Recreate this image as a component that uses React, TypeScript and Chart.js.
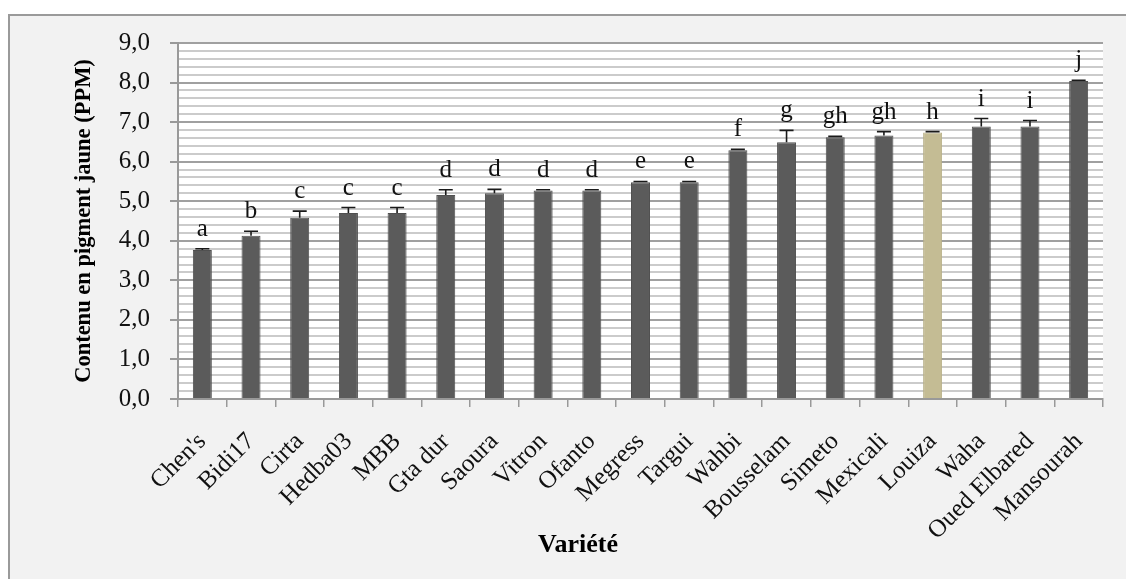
import React, { useEffect, useRef } from 'react';
import { Chart, registerables } from 'chart.js';

Chart.register(...registerables);

const varieties = ["Chen's", 'Bidi17', 'Cirta', 'Hedba03', 'MBB', 'Gta dur', 'Saoura', 'Vitron', 'Ofanto', 'Megress', 'Targui', 'Wahbi', 'Bousselam', 'Simeto', 'Mexicali', 'Louiza', 'Waha', 'Oued Elbared', 'Mansourah'];
const pigment = [3.77, 4.13, 4.58, 4.7, 4.7, 5.16, 5.2, 5.27, 5.27, 5.48, 5.48, 6.29, 6.49, 6.62, 6.66, 6.74, 6.89, 6.89, 8.04];
const stdErr = [0.03, 0.11, 0.17, 0.14, 0.14, 0.13, 0.1, 0.02, 0.02, 0.02, 0.02, 0.02, 0.3, 0.02, 0.1, 0.02, 0.2, 0.15, 0.02];
const groups = ['a', 'b', 'c', 'c', 'c', 'd', 'd', 'd', 'd', 'e', 'e', 'f', 'g', 'gh', 'gh', 'h', 'i', 'i', 'j'];
const yMin = 0;
const yMax = 9;
const yMajorStep = 1;
const yMinorStep = 0.2;
const highlighted = 'Louiza';
const yTitle = 'Contenu en pigment jaune (PPM)';
const xTitle = 'Variété';

const SERIF = "'Liberation Serif', 'Times New Roman', serif";
const isMajor = (v: number) => Math.abs(v / yMajorStep - Math.round(v / yMajorStep)) < 1e-6;

const decorPlugin = {
  id: 'decor',
  beforeDraw(chart: any) {
    const { ctx, width, height, chartArea } = chart;
    ctx.save();
    ctx.fillStyle = '#ffffff';
    ctx.fillRect(0, 0, width, height);
    ctx.fillStyle = '#f2f2f2';
    ctx.fillRect(9, 15, width - 9, height - 15);
    ctx.strokeStyle = '#9a9a9a';
    ctx.lineWidth = 2;
    ctx.beginPath();
    ctx.moveTo(9, height);
    ctx.lineTo(9, 15);
    ctx.lineTo(width, 15);
    ctx.stroke();
    ctx.fillStyle = '#ffffff';
    ctx.fillRect(chartArea.left, chartArea.top, chartArea.right - chartArea.left, chartArea.bottom - chartArea.top);
    ctx.restore();
  },
  afterDatasetsDraw(chart: any) {
    const { ctx } = chart;
    const meta = chart.getDatasetMeta(0);
    const y = chart.scales.y;
    ctx.save();
    meta.data.forEach((bar: any, i: number) => {
      const x = bar.x;
      const top = y.getPixelForValue(pigment[i] + stdErr[i]);
      const base = bar.y;
      ctx.strokeStyle = '#1a1a1a';
      ctx.lineWidth = 1.6;
      ctx.beginPath();
      ctx.moveTo(x, base);
      ctx.lineTo(x, top);
      ctx.moveTo(x - 7, top);
      ctx.lineTo(x + 7, top);
      ctx.stroke();
      ctx.fillStyle = '#111111';
      ctx.font = `25px ${SERIF}`;
      ctx.textAlign = 'center';
      ctx.textBaseline = 'alphabetic';
      ctx.fillText(groups[i], x, top - 13);
    });
    ctx.fillStyle = '#000000';
    ctx.font = `bold 26px ${SERIF}`;
    ctx.textAlign = 'center';
    ctx.textBaseline = 'middle';
    ctx.fillText(xTitle, 578, 545);
    ctx.restore();
  },
};

export default function App() {
  const canvasRef = useRef<HTMLCanvasElement | null>(null);

  useEffect(() => {
    if (!canvasRef.current) return;
    const chart = new Chart(canvasRef.current, {
      type: 'bar',
      data: {
        labels: varieties,
        datasets: [
          {
            label: yTitle,
            data: pigment,
            backgroundColor: varieties.map((v) => (v === highlighted ? '#c4bc94' : '#5b5b5b')),
            borderColor: varieties.map((v) => (v === highlighted ? '#b8b088' : '#505050')),
            borderWidth: 1,
            barPercentage: 0.39,
            categoryPercentage: 1,
          },
        ],
      },
      options: {
        animation: false,
        responsive: true,
        maintainAspectRatio: false,
        layout: { padding: { left: 0, top: 43, right: 23, bottom: 0 } },
        plugins: { legend: { display: false }, tooltip: { enabled: false } },
        scales: {
          x: {
            offset: true,
            grid: { display: true, drawOnChartArea: false, drawTicks: true, tickLength: 8, offset: true, color: '#999999', lineWidth: 1.5 },
            border: { display: true, color: '#999999', width: 2 },
            ticks: {
              autoSkip: false,
              minRotation: 45,
              maxRotation: 45,
              padding: 20,
              color: '#111111',
              font: { family: SERIF, size: 25 },
            },
            afterFit: (scale: any) => {
              scale.height = 180;
            },
          },
          y: {
            min: yMin,
            max: yMax,
            grid: {
              color: (c: any) => (c.tick && isMajor(c.tick.value) ? '#a0a0a0' : '#cbcbcb'),
              tickColor: (c: any) => (c.tick && isMajor(c.tick.value) ? '#999999' : 'rgba(0,0,0,0)'),
              drawTicks: true,
              tickLength: 8,
              lineWidth: 2,
            },
            border: { display: true, color: '#999999', width: 2 },
            ticks: {
              stepSize: yMinorStep,
              autoSkip: false,
              padding: 20,
              color: '#111111',
              font: { family: SERIF, size: 25 },
              callback: (v: any) => (isMajor(Number(v)) ? Number(v).toFixed(1).replace('.', ',') : ''),
            },
            title: {
              display: true,
              text: yTitle,
              color: '#000000',
              font: { family: SERIF, size: 22.5, weight: 'bold' },
              padding: { top: 71, bottom: 0 },
            },
            afterFit: (scale: any) => {
              scale.width = 178;
            },
          },
        },
      },
      plugins: [decorPlugin],
    });
    return () => chart.destroy();
  }, []);

  return (
    <div style={{ position: 'absolute', left: 0, top: 0, width: '1126px', height: '579px' }}>
      <canvas ref={canvasRef} style={{ display: 'block' }} />
    </div>
  );
}
